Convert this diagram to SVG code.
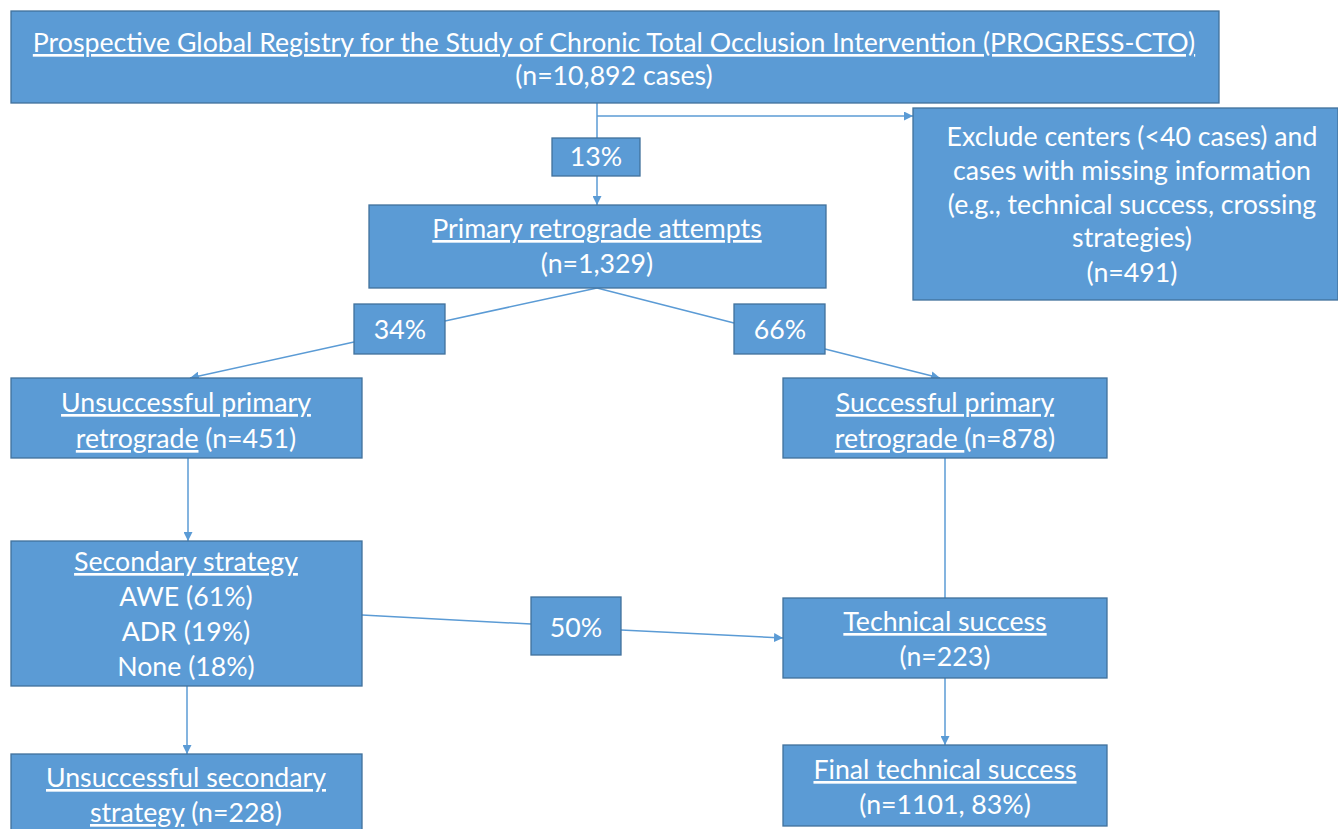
<svg xmlns="http://www.w3.org/2000/svg" width="1338" height="829" viewBox="0 0 1338 829">
<defs>
<marker id="ah" viewBox="0 0 10 10" refX="10" refY="5" markerWidth="9" markerHeight="9" markerUnits="userSpaceOnUse" orient="auto">
<path d="M0,0 L10,5 L0,10 z" fill="#5B9BD5"/>
</marker>
<style>
.box{fill:#5B9BD5;stroke:#41719C;stroke-width:1.3}
.t{font-family:Lato,"Open Sans",sans-serif;font-size:26.7px;fill:#fff;text-anchor:middle}
.u{text-decoration:underline}
.c{fill:none;stroke:#5B9BD5;stroke-width:1.5}
</style>
</defs>
<rect width="1338" height="829" fill="#fff"/>
<g id="connectors">
<line class="c" x1="597" y1="103" x2="597" y2="138"/>
<line class="c" x1="597" y1="176" x2="597" y2="205" marker-end="url(#ah)"/>
<line class="c" x1="597" y1="116" x2="913" y2="116" marker-end="url(#ah)"/>
<line class="c" x1="597" y1="288" x2="445" y2="321"/>
<line class="c" x1="354" y1="342" x2="190" y2="378" marker-end="url(#ah)"/>
<line class="c" x1="597" y1="288" x2="734" y2="323"/>
<line class="c" x1="825" y1="349" x2="940" y2="378" marker-end="url(#ah)"/>
<line class="c" x1="188" y1="458" x2="188" y2="541" marker-end="url(#ah)"/>
<line class="c" x1="187" y1="686" x2="187" y2="754" marker-end="url(#ah)"/>
<line class="c" x1="945" y1="458" x2="945" y2="598"/>
<line class="c" x1="362" y1="615" x2="531" y2="624"/>
<line class="c" x1="621" y1="630" x2="783" y2="638" marker-end="url(#ah)"/>
<line class="c" x1="945" y1="678" x2="945" y2="745" marker-end="url(#ah)"/>
</g>
<g id="registry">
<rect class="box" x="11" y="11" width="1208" height="92"/>
<text class="t" x="614" y="52"><tspan class="u">Prospective Global Registry for the Study of Chronic Total Occlusion Intervention (PROGRESS-CTO)</tspan></text>
<text class="t" x="614" y="85">(n=10,892 cases)</text>
</g>
<g id="p13">
<rect class="box" x="552" y="138" width="88" height="38"/>
<text class="t" x="596" y="166">13%</text>
</g>
<g id="exclude">
<rect class="box" x="913" y="108" width="425" height="192"/>
<text class="t" x="1132" y="146">Exclude centers (&lt;40 cases) and</text>
<text class="t" x="1132" y="180">cases with missing information</text>
<text class="t" x="1132" y="214">(e.g., technical success, crossing</text>
<text class="t" x="1132" y="247">strategies)</text>
<text class="t" x="1132" y="282">(n=491)</text>
</g>
<g id="primary">
<rect class="box" x="369" y="205" width="457" height="83"/>
<text class="t" x="597" y="238"><tspan class="u">Primary retrograde attempts</tspan></text>
<text class="t" x="597" y="273">(n=1,329)</text>
</g>
<g id="p34">
<rect class="box" x="354" y="304" width="91" height="50"/>
<text class="t" x="400" y="339">34%</text>
</g>
<g id="p66">
<rect class="box" x="734" y="304" width="91" height="50"/>
<text class="t" x="780" y="339">66%</text>
</g>
<g id="unsuccessful-primary">
<rect class="box" x="11" y="378" width="351" height="80"/>
<text class="t" x="186" y="412"><tspan class="u">Unsuccessful primary</tspan></text>
<text class="t" x="186" y="448"><tspan class="u">retrograde</tspan> (n=451)</text>
</g>
<g id="successful-primary">
<rect class="box" x="783" y="378" width="324" height="80"/>
<text class="t" x="945" y="412"><tspan class="u">Successful primary</tspan></text>
<text class="t" x="945" y="448"><tspan class="u">retrograde </tspan>(n=878)</text>
</g>
<g id="secondary">
<rect class="box" x="11" y="541" width="351" height="145"/>
<text class="t" x="186" y="571"><tspan class="u">Secondary strategy</tspan></text>
<text class="t" x="186" y="606">AWE (61%)</text>
<text class="t" x="186" y="641">ADR (19%)</text>
<text class="t" x="186" y="676">None (18%)</text>
</g>
<g id="p50">
<rect class="box" x="531" y="597" width="90" height="58"/>
<text class="t" x="576" y="637">50%</text>
</g>
<g id="technical">
<rect class="box" x="783" y="598" width="324" height="80"/>
<text class="t" x="945" y="631"><tspan class="u">Technical success</tspan></text>
<text class="t" x="945" y="666">(n=223)</text>
</g>
<g id="unsuccessful-secondary">
<rect class="box" x="11" y="754" width="351" height="80"/>
<text class="t" x="186" y="787"><tspan class="u">Unsuccessful secondary</tspan></text>
<text class="t" x="186" y="822"><tspan class="u">strategy</tspan> (n=228)</text>
</g>
<g id="final">
<rect class="box" x="783" y="745" width="324" height="81"/>
<text class="t" x="945" y="779"><tspan class="u">Final technical success</tspan></text>
<text class="t" x="945" y="814">(n=1101, 83%)</text>
</g>
</svg>
